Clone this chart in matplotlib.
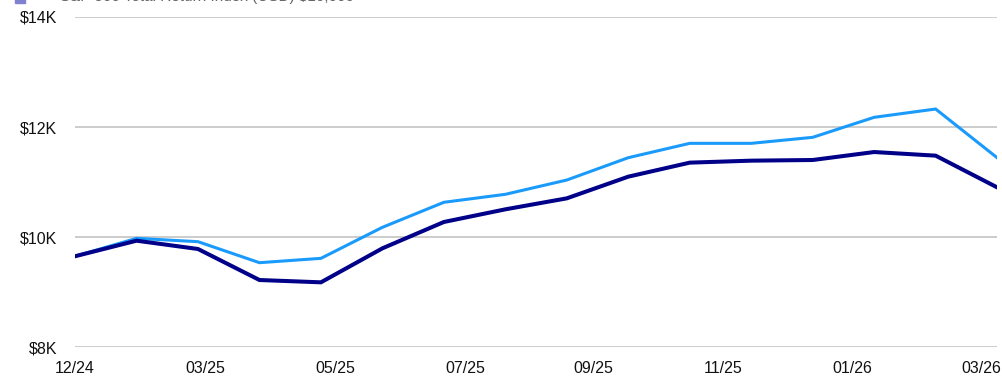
#!/usr/bin/env python3

import matplotlib
matplotlib.use("Agg")
import matplotlib.pyplot as plt
from matplotlib.ticker import FuncFormatter

plt.rcParams["font.family"] = ["Liberation Sans", "DejaVu Sans"]

months = ["12/24", "01/25", "02/25", "03/25", "04/25", "05/25", "06/25", "07/25",
          "08/25", "09/25", "10/25", "11/25", "12/25", "01/26", "02/26", "03/26"]
index_vals = [9650, 9976, 9915, 9533, 9612, 10176, 10631, 10776,
              11036, 11442, 11703, 11703, 11812, 12176, 12327, 11442]
fund_vals = [9650, 9933, 9782, 9218, 9176, 9794, 10273, 10503,
             10703, 11097, 11352, 11388, 11400, 11545, 11479, 10903]
tick_labels = ["12/24", "03/25", "05/25", "07/25", "09/25", "11/25", "01/26", "03/26"]
tick_pos = [0, 2.115, 4.23, 6.345, 8.43, 10.545, 12.645, 14.745]
legend_text = "S&P 500 Total Return Index (USD) $10,000"

fig = plt.figure(figsize=(10.02, 3.76), dpi=100)
ax = fig.add_axes([0.0749, 0.0771, 0.9202, 0.8777])

x = list(range(len(months)))
ax.plot(x, index_vals, color="#1a9bfb", linewidth=2.2, solid_joinstyle="miter")
ax.plot(x, fund_vals, color="#000088", linewidth=2.9, solid_joinstyle="miter")

ax.set_xlim(0, len(months) - 1)
ax.set_ylim(8000, 14000)
ax.set_yticks([8000, 10000, 12000, 14000])
ax.yaxis.set_major_formatter(FuncFormatter(lambda v, p: "$%dK" % (v / 1000)))
ax.set_xticks(tick_pos)
ax.set_xticklabels(tick_labels)
ax.grid(axis="y", color="#c4c4c4", linewidth=1.2)
ax.set_axisbelow(True)
for s in ax.spines.values():
    s.set_visible(False)
ax.tick_params(length=0, labelsize=11.5, colors="#111111")
ax.tick_params(axis="y", pad=13)
ax.tick_params(axis="x", pad=10)

# legend at top, mostly cut off by the figure edge (as in the reference)
fig.patches.append(plt.Rectangle((15 / 1002, 1 - 3 / 376), 10 / 1002, 10 / 376,
                                 transform=fig.transFigure, color="#8080d0"))
fig.text(60 / 1002, 1 - 1 / 376, legend_text, fontsize=11, color="#666666",
         va="baseline", ha="left")

fig.savefig("out.png", dpi=100)
